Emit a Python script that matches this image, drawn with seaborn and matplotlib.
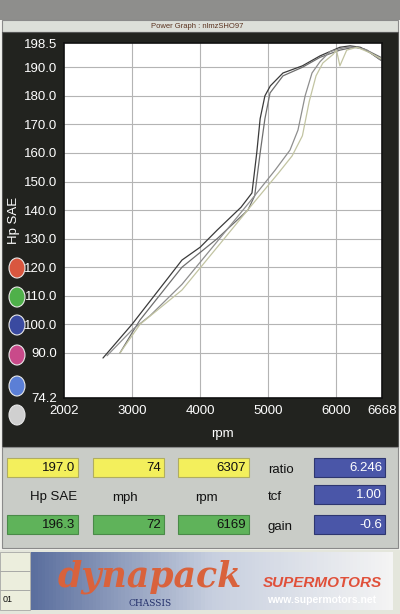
import numpy as np
import pandas as pd
import matplotlib
matplotlib.use("Agg")
import matplotlib.pyplot as plt
import seaborn as sns
from matplotlib.patches import Rectangle, Ellipse

# Dados das corridas (rpm x Hp SAE)
rpm_a1 = [2574, 3000, 3733, 4000, 4250, 4600, 4760, 4830, 4880, 4950, 5030, 5215, 5500, 5760, 6050, 6200, 6350, 6500, 6650]
hp_a1 = [88.2, 100.0, 122.5, 127.0, 133.0, 141.0, 146.0, 160.0, 172.0, 180.0, 183.5, 188.0, 190.5, 194.0, 197.0, 197.5, 197.0, 195.0, 192.5]

rpm_a2 = [2824, 3000, 3117, 3733, 4250, 4700, 4800, 4880, 4950, 5025, 5215, 5500, 5760, 6050, 6250, 6400, 6650]
hp_a2 = [90.0, 97.0, 101.5, 120.0, 130.0, 140.0, 145.0, 160.0, 172.0, 181.0, 187.0, 190.0, 193.5, 196.0, 197.0, 196.5, 193.5]

rpm_b1 = [2633, 3000, 3264, 3733, 4250, 4731, 5100, 5318, 5435, 5540, 5641, 5760, 5905, 6050, 6154, 6300, 6450, 6650]
hp_b1 = [89.0, 98.0, 103.0, 114.0, 129.0, 143.0, 154.0, 161.0, 168.0, 180.0, 188.0, 192.0, 195.5, 196.5, 197.0, 197.0, 196.0, 192.5]

rpm_b2 = [2824, 3117, 3733, 4250, 4731, 5150, 5350, 5500, 5600, 5700, 5800, 5950, 6000, 6050, 6150, 6300, 6500, 6650]
hp_b2 = [90.0, 100.0, 112.0, 127.0, 141.0, 153.0, 159.0, 166.0, 178.0, 187.0, 191.5, 194.5, 196.0, 190.5, 196.0, 197.0, 195.0, 193.0]

x_ticks = [2002, 3000, 4000, 5000, 6000, 6668]
y_ticks = [74.2, 90.0, 100.0, 110.0, 120.0, 130.0, 140.0, 150.0, 160.0, 170.0, 180.0, 190.0, 198.5]

top_vals = ["197.0", "74", "6307"]
mid_labels = ["Hp SAE", "mph", "rpm"]
bot_vals = ["196.3", "72", "6169"]
side_labels = ["ratio", "tcf", "gain"]
side_vals = ["6.246", "1.00", "-0.6"]

df = pd.concat([
    pd.DataFrame({"rpm": rpm_a1, "hp": hp_a1, "run": "a1"}),
    pd.DataFrame({"rpm": rpm_a2, "hp": hp_a2, "run": "a2"}),
    pd.DataFrame({"rpm": rpm_b1, "hp": hp_b1, "run": "b1"}),
    pd.DataFrame({"rpm": rpm_b2, "hp": hp_b2, "run": "b2"}),
])

W, H = 400, 614
def fx(x):
    return x / W
def fy(y):
    return 1 - y / H

sns.set_style("white")
plt.rcParams["font.family"] = ["Liberation Sans", "DejaVu Sans"]

fig = plt.figure(figsize=(4, 6.14), dpi=100)
fig.patch.set_facecolor("#f2f2ee")

def rect(x0, y0, x1, y1, fc, ec="none", lw=0.8, z=-5):
    fig.patches.append(Rectangle((fx(x0), fy(y1)), fx(x1) - fx(x0), fy(y0) - fy(y1),
                                 transform=fig.transFigure, facecolor=fc, edgecolor=ec, lw=lw, zorder=z))

# faixas de fundo
rect(0, 0, 400, 20, "#8e8e8c")
rect(2, 20, 398, 32, "#dcdfd9", ec="#8a8a8a")
fig.text(fx(197), fy(26), "Power Graph : nlmzSHO97", fontsize=5.5, color="#5a3320", ha="center", va="center")
rect(2, 32, 398, 447, "#22231f", ec="#555555")
rect(2, 447, 398, 548, "#c9ccc7", ec="#8a8a8a")
rect(0, 550, 400, 614, "#e4e6dc")

# grafico principal
ax = fig.add_axes([fx(64), fy(398), fx(382) - fx(64), fy(43) - fy(398)])
ax.set_facecolor("white")
sns.lineplot(data=df, x="rpm", y="hp", hue="run", units="run", estimator=None, sort=False,
             palette=["#3a3a3a", "#6e6e6e", "#8e8e8e", "#c2c4a2"], linewidth=0.9, legend=False, ax=ax)
ax.set_xlim(2002, 6668)
ax.set_ylim(74.2, 198.5)
ax.set_xticks(x_ticks)
ax.set_yticks(y_ticks)
ax.set_xticklabels([str(v) for v in x_ticks], color="white", fontsize=9.5)
ax.set_yticklabels([f"{v:.1f}" for v in y_ticks], color="white", fontsize=9.5)
ax.tick_params(length=0, pad=5)
for g in x_ticks[1:-1]:
    ax.axvline(g, color="#b4b4b4", lw=0.8, zorder=0)
for g in y_ticks[1:-1]:
    ax.axhline(g, color="#b4b4b4", lw=0.8, zorder=0)
ax.set_xlabel("")
ax.set_ylabel("")
for s in ax.spines.values():
    s.set_color("#111111")
    s.set_linewidth(1.2)

fig.text(fx(14), fy(220), "Hp SAE", rotation=90, color="white", fontsize=9.5, ha="center", va="center")
fig.text(fx(222), fy(434), "rpm", color="white", fontsize=9.5, ha="center", va="center")

# circulos coloridos
circle_y = [268, 297, 325, 355, 386, 415]
circle_c = ["#d9573f", "#4fb04a", "#3a4aa0", "#c94a8a", "#5b7fd6", "#d0d0d0"]
for cy, cc in zip(circle_y, circle_c):
    fig.patches.append(Ellipse((fx(17), fy(cy)), 16 / W, 20 / H, transform=fig.transFigure,
                               facecolor=cc, edgecolor="#e8e8e8", lw=0.8))

# painel inferior
box_x = [(7, 78), (93, 164), (178, 249)]
for (x0, x1), tv, ml, bv in zip(box_x, top_vals, mid_labels, bot_vals):
    rect(x0, 458, x1, 477, "#f3ef5c", ec="#b0ad60")
    fig.text(fx(x1 - 3), fy(468), tv, fontsize=9.5, ha="right", va="center", color="#111111")
    rect(x0, 515, x1, 534, "#5fb35a", ec="#4a8a48")
    fig.text(fx(x1 - 3), fy(525), bv, fontsize=9.5, ha="right", va="center", color="#111111")
fig.text(fx(77), fy(497), mid_labels[0], fontsize=9.5, ha="right", va="center", color="#111111")
fig.text(fx(125), fy(498), mid_labels[1], fontsize=9.5, ha="center", va="center", color="#111111")
fig.text(fx(206), fy(498), mid_labels[2], fontsize=9.5, ha="center", va="center", color="#111111")

side_y = [468, 495, 525]
for sy, sl, sv in zip(side_y, side_labels, side_vals):
    fig.text(fx(268), fy(sy + 2), sl, fontsize=9.5, ha="left", va="center", color="#111111")
    rect(314, sy - 10, 385, sy + 9, "#4a56a8", ec="#2e3670")
    fig.text(fx(382), fy(sy), sv, fontsize=9.5, ha="right", va="center", color="white")

# rodape com logo
rect(0, 552, 30, 571, "#eceedd", ec="#9a9a9a", lw=0.5)
rect(0, 571, 30, 590, "#eceedd", ec="#9a9a9a", lw=0.5)
rect(0, 590, 30, 610, "#eceedd", ec="#9a9a9a", lw=0.5)
fig.text(fx(3), fy(600), "01", fontsize=6.5, ha="left", va="center", color="#111111")
lax = fig.add_axes([fx(31), fy(610), fx(393) - fx(31), fy(552) - fy(610)])
lax.imshow(np.linspace(0, 1, 100).reshape(1, -1), cmap=sns.blend_palette(["#5b6f9e", "#c7cfdf", "#f4f4f4"], as_cmap=True),
           aspect="auto", extent=[0, 1, 0, 1])
lax.set_axis_off()
fig.text(fx(150), fy(577), "dynapack", fontsize=25, style="italic", fontweight="bold", family="DejaVu Serif",
         ha="center", va="center", color="#d9623c")
fig.text(fx(150), fy(603), "CHASSIS", fontsize=6.5, family="DejaVu Serif", ha="center", va="center", color="#23306b")
fig.text(fx(322), fy(583), "SUPERMOTORS", fontsize=11, style="italic", fontweight="bold",
         ha="center", va="center", color="#e0503a")
fig.text(fx(322), fy(600), "www.supermotors.net", fontsize=7.5, fontweight="bold",
         ha="center", va="center", color="#ffffff")

fig.savefig("out.png", dpi=100, facecolor=fig.get_facecolor())
